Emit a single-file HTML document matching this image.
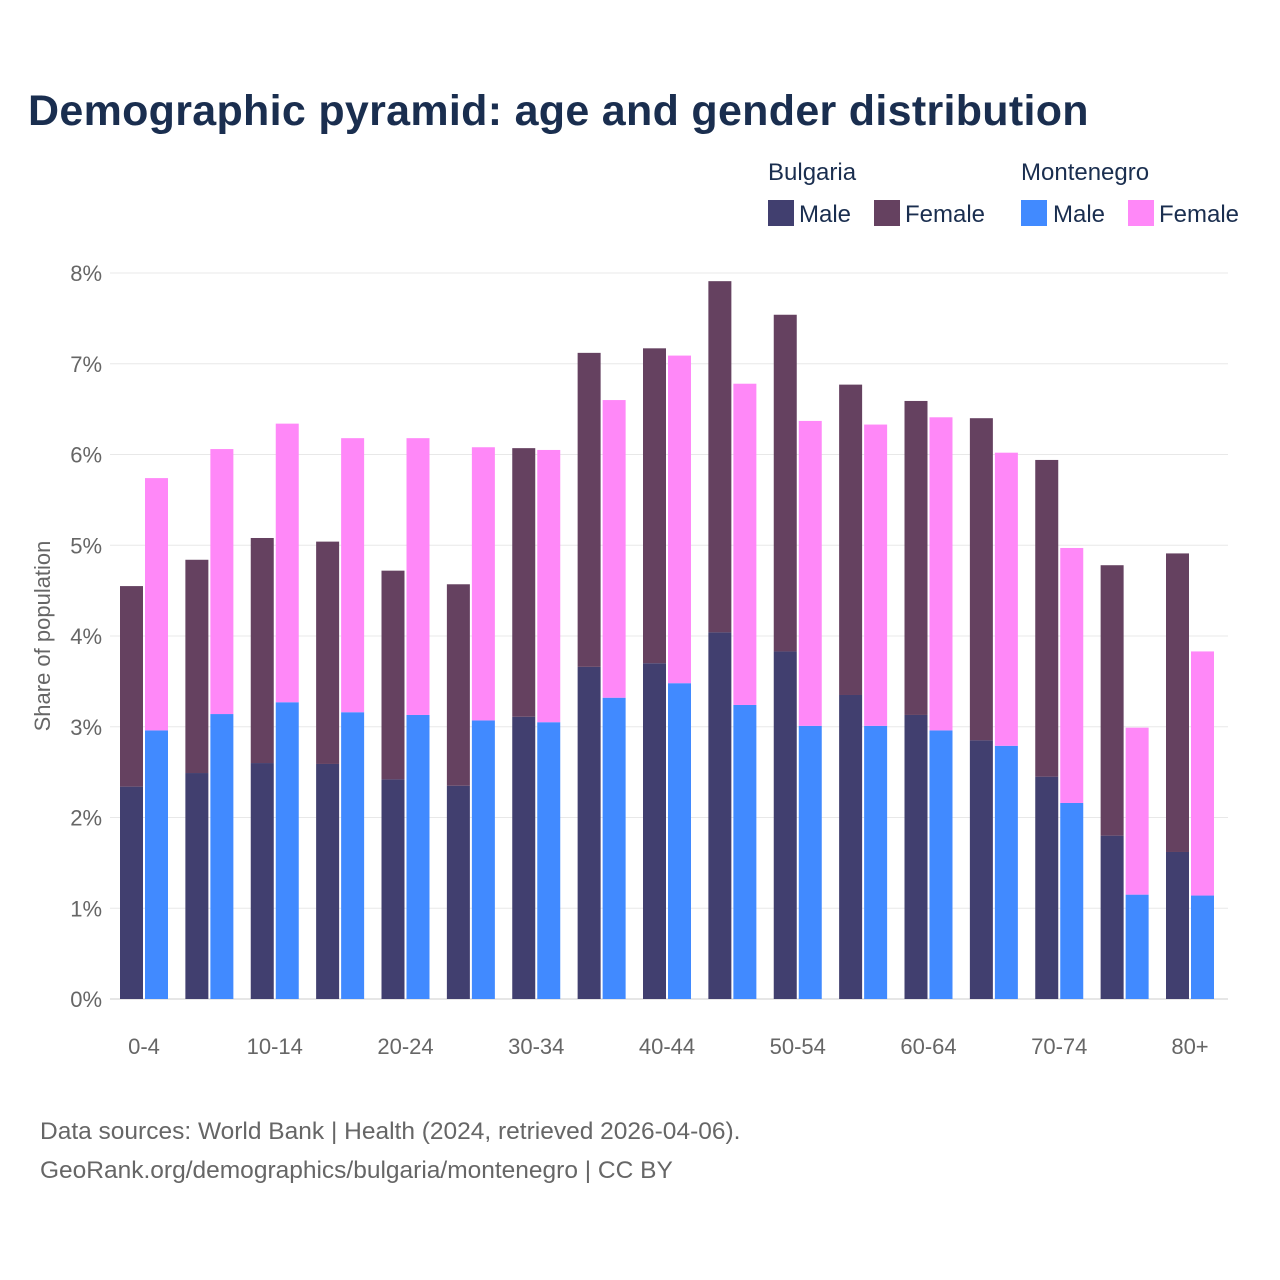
<!DOCTYPE html>
<html><head><meta charset="utf-8"><style>
body{margin:0;background:#fff;font-family:"Liberation Sans",sans-serif;}
svg{display:block}
</style></head><body>
<svg id="chart" width="1280" height="1280" xmlns="http://www.w3.org/2000/svg">
<rect width="1280" height="1280" fill="#fff"/>
<text x="28" y="125" font-size="43" font-weight="bold" fill="#1a2e4f" letter-spacing="0.3">Demographic pyramid: age and gender distribution</text>
<g font-size="24" fill="#1a2e4f">
<text x="768" y="180">Bulgaria</text>
<text x="1021" y="180">Montenegro</text>
<rect x="768" y="200" width="26" height="26" fill="#413f6f"/>
<text x="799" y="222">Male</text>
<rect x="874" y="200" width="26" height="26" fill="#654160"/>
<text x="905" y="222">Female</text>
<rect x="1021" y="200" width="26" height="26" fill="#418aff"/>
<text x="1053" y="222">Male</text>
<rect x="1128" y="200" width="26" height="26" fill="#ff88f8"/>
<text x="1159" y="222">Female</text>
</g>
<text transform="translate(50,636) rotate(-90)" text-anchor="middle" font-size="22" fill="#666">Share of population</text>
<g id="grid"></g><g id="bars"></g><g id="xlabels"></g>
<text x="40" y="1139" font-size="24.5" fill="#666">Data sources: World Bank | Health (2024, retrieved 2026-04-06).</text>
<text x="40" y="1178" font-size="24.5" fill="#666">GeoRank.org/demographics/bulgaria/montenegro | CC BY</text>
</svg>
<script>
const categories=["0-4","5-9","10-14","15-19","20-24","25-29","30-34","35-39","40-44","45-49","50-54","55-59","60-64","65-69","70-74","75-79","80+"];
const bgMale=[2.34,2.49,2.60,2.59,2.42,2.35,3.11,3.66,3.70,4.04,3.83,3.35,3.13,2.85,2.45,1.80,1.62];
const bgFemale=[2.21,2.35,2.48,2.45,2.30,2.22,2.96,3.46,3.47,3.87,3.71,3.42,3.46,3.55,3.49,2.98,3.29];
const meMale=[2.96,3.14,3.27,3.16,3.13,3.07,3.05,3.32,3.48,3.24,3.01,3.01,2.96,2.79,2.16,1.15,1.14];
const meFemale=[2.78,2.92,3.07,3.02,3.05,3.01,3.00,3.28,3.61,3.54,3.36,3.32,3.45,3.23,2.81,1.84,2.69];
const yTicks=[0,1,2,3,4,5,6,7,8];
const NS="http://www.w3.org/2000/svg";
const y=v=>999-v*90.75;
const cx=i=>144+i*65.375;
function mk(t,a,p){const e=document.createElementNS(NS,t);for(const k in a)e.setAttribute(k,a[k]);p.appendChild(e);return e;}
const grid=document.getElementById('grid');
yTicks.forEach(t=>{
  const l=mk('line',{x1:110,x2:1228,y1:y(t),y2:y(t),stroke:t===0?'#ccc':'#e8e8e8','stroke-width':1},grid);
  
  
  const tx=mk('text',{x:102,y:y(t)+8,'text-anchor':'end','font-size':22,fill:'#666'},grid);
  tx.textContent=t+'%';
  
  
});
const bars=document.getElementById('bars');
function bar(x,v0,v1,fill,name){
  const r=mk('rect',{x:x,y:y(v1),width:23,height:y(v0)-y(v1),fill:fill},bars);
  
  
}
categories.forEach((c,i)=>{
  const c0=cx(i);
  bar(c0-24,0,bgMale[i],'#413f6f','bar-bg-male-'+c);
  bar(c0-24,bgMale[i],bgMale[i]+bgFemale[i],'#654160','bar-bg-female-'+c);
  bar(c0+1,0,meMale[i],'#418aff','bar-me-male-'+c);
  bar(c0+1,meMale[i],meMale[i]+meFemale[i],'#ff88f8','bar-me-female-'+c);
  if(i%2===0){
    const t=mk('text',{x:c0,y:1054,'text-anchor':'middle','font-size':22,fill:'#666'},document.getElementById('xlabels'));
    t.textContent=c;
    
    
  }
});
</script>
</body></html>
